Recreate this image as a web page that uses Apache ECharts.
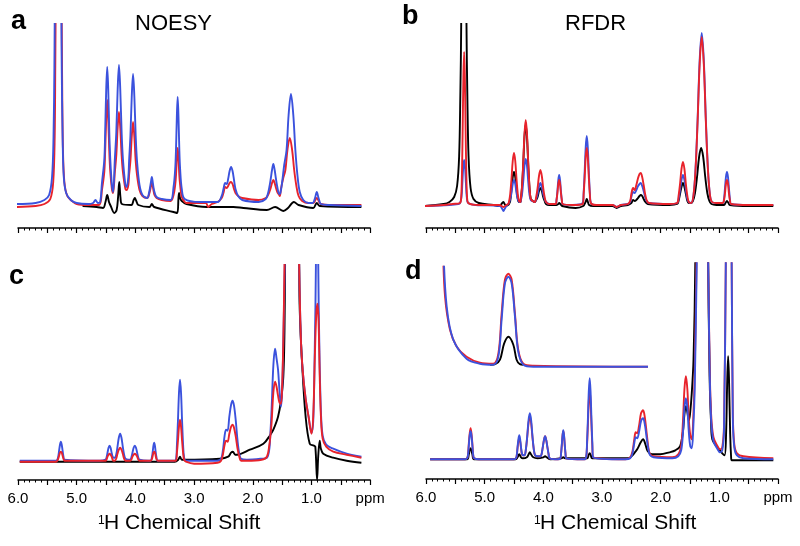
<!DOCTYPE html>
<html><head><meta charset="utf-8">
<script src="https://cdn.jsdelivr.net/npm/echarts@6/dist/echarts.min.js"></script>
<style>html,body{margin:0;padding:0;background:#fff}#chart{width:800px;height:546px}</style>
</head><body><div id="chart"></div>
<script>
// ---------- tick labels & texts ----------
const xTickValues = [6, 5, 4, 3, 2, 1, 0];
const xTickLabels = ['6.0', '5.0', '4.0', '3.0', '2.0', '1.0', 'ppm'];
const panelLetters = ['a', 'b', 'c', 'd'];
const panelTitles = ['NOESY', 'RFDR'];
const axisTitleSup = '1';
const axisTitleMain = 'H Chemical Shift';

// ---------- panel a: NOESY  [ppm, intensity] ----------
const aBlue = [[6.02,3],[5.70,4],[5.55,7],[5.47,12],[5.42,30],[5.395,70],[5.38,140],[5.375,183],[5.32,600],[5.26,183],[5.255,140],[5.24,70],[5.22,30],[5.18,14],[5.10,7],[5.00,4],[4.80,3],[4.72,4],[4.68,7],[4.64,4],[4.60,5],[4.57,24],[4.53,47],[4.515,75],[4.4975,117],[4.48,140],[4.4625,117],[4.445,75],[4.4275,47],[4.40,22],[4.38,15],[4.35,48],[4.325,75],[4.3025,117],[4.28,142],[4.2575,117],[4.235,75],[4.2125,48],[4.17,22],[4.15,20],[4.12,30],[4.1075,46],[4.085,71],[4.0625,110],[4.04,133],[4.0175,110],[3.995,71],[3.9725,46],[3.93,22],[3.88,12],[3.80,9],[3.765,15],[3.735,25],[3.72,30],[3.705,25],[3.69,19],[3.675,15],[3.64,10],[3.55,8],[3.40,7],[3.35,20],[3.322,38],[3.308,58],[3.294,90],[3.28,110],[3.266,90],[3.252,58],[3.238,38],[3.21,18],[3.16,8],[2.90,5],[2.60,5],[2.53,11],[2.50,18],[2.47,24],[2.445,23],[2.42,28],[2.395,36],[2.37,40],[2.345,36],[2.32,27],[2.295,18],[2.25,11],[2.18,7],[1.90,5],[1.78,8],[1.74,14],[1.7175,20],[1.695,28],[1.6725,37],[1.65,43],[1.6275,37],[1.605,28],[1.5825,20],[1.55,13],[1.53,14],[1.50,25],[1.465,42],[1.425,57],[1.39,92],[1.35,113],[1.31,92],[1.275,57],[1.24,32],[1.20,15],[1.14,7],[1.05,4],[0.98,4],[0.95,7],[0.935,10],[0.91,15],[0.885,10],[0.87,7],[0.84,3],[0.70,2],[0.15,1]];
const aRed = [[6.02,0],[5.70,1],[5.55,3],[5.45,8],[5.40,25],[5.375,70],[5.365,140],[5.36,183],[5.31,500],[5.255,183],[5.25,140],[5.235,60],[5.21,25],[5.16,11],[5.08,6],[5.00,3],[4.80,2],[4.62,2],[4.57,17],[4.53,35],[4.515,56],[4.4975,88],[4.48,107],[4.4625,88],[4.445,56],[4.4275,35],[4.40,18],[4.38,14],[4.35,35],[4.325,52],[4.3025,79],[4.28,95],[4.2575,79],[4.235,52],[4.2125,35],[4.17,18],[4.15,17],[4.12,22],[4.1075,32],[4.085,46],[4.0625,70],[4.04,85],[4.0175,70],[3.995,46],[3.9725,32],[3.93,17],[3.88,11],[3.80,9],[3.765,13],[3.735,21],[3.72,25],[3.705,21],[3.69,16],[3.675,12],[3.64,9],[3.55,7],[3.40,6],[3.35,12],[3.322,22],[3.308,32],[3.294,49],[3.28,59],[3.266,49],[3.252,32],[3.238,22],[3.21,10],[3.16,5],[3.13,4],[2.80,4],[2.76,0],[2.70,3],[2.60,5],[2.53,9],[2.50,14],[2.47,20],[2.445,19],[2.42,21],[2.395,24],[2.37,25],[2.345,23],[2.32,18],[2.295,14],[2.25,11],[2.18,9],[1.90,7],[1.78,9],[1.74,12],[1.7175,15],[1.695,19],[1.6725,24],[1.65,27],[1.6275,24],[1.605,19],[1.5825,15],[1.55,12],[1.54,11],[1.52,18],[1.485,28],[1.445,37],[1.41,57],[1.37,69],[1.33,57],[1.295,37],[1.26,22],[1.22,11],[1.16,6],[1.05,4],[0.98,4],[0.95,5],[0.935,7],[0.91,9],[0.885,7],[0.87,5],[0.84,3],[0.70,2],[0.15,2]];
const aBlack = [[4.90,1],[4.66,0],[4.55,-1],[4.51,5],[4.48,12],[4.45,5],[4.42,1],[4.36,-6],[4.32,-3],[4.295,10],[4.275,25],[4.255,10],[4.23,3],[4.07,2],[4.03,7],[4.01,9],[3.985,6],[3.95,2],[3.76,0],[3.72,3],[3.68,0],[3.35,-5],[3.29,-6],[3.265,10],[3.255,14],[3.24,9],[3.21,6],[3.13,3],[2.79,0],[2.33,0],[2.16,-1],[1.76,-3],[1.62,0],[1.48,-4],[1.40,-1],[1.30,5],[1.22,2],[0.97,-1],[0.91,4],[0.86,1],[0.15,0]];

// ---------- panel b: RFDR ----------
const bBlue = [[6.05,0],[5.60,1],[5.45,2],[5.42,3],[5.395,9],[5.38,23],[5.365,39],[5.35,46],[5.335,39],[5.32,23],[5.305,9],[5.28,3],[5.15,1],[4.74,0],[4.70,-3],[4.68,-5],[4.66,-3],[4.63,0],[4.60,2],[4.586,3],[4.5645,7],[4.543,13],[4.5215,22],[4.50,26],[4.4785,22],[4.457,13],[4.4355,7],[4.414,4],[4.39,4],[4.386,5],[4.3645,11],[4.343,24],[4.3215,40],[4.30,47],[4.2785,40],[4.257,24],[4.2355,11],[4.214,6],[4.18,5],[4.146,4],[4.122,7],[4.098,12],[4.074,19],[4.05,23],[4.026,19],[4.002,12],[3.978,7],[3.954,4],[3.90,2],[3.79,2],[3.775,6],[3.76,15],[3.745,26],[3.73,31],[3.715,26],[3.70,15],[3.685,6],[3.67,2],[3.50,1],[3.33,3],[3.3125,14],[3.295,35],[3.2775,59],[3.26,70],[3.2425,59],[3.225,35],[3.2075,14],[3.19,3],[3.10,1],[2.82,1],[2.75,-1],[2.68,1],[2.56,2],[2.52,4],[2.50,9],[2.47,14],[2.445,13],[2.415,16],[2.385,20],[2.36,22],[2.34,23],[2.315,20],[2.29,15],[2.265,9],[2.24,5],[2.20,3],[1.85,2],[1.72,3],[1.695,7],[1.67,16],[1.645,26],[1.62,31],[1.595,26],[1.57,16],[1.545,7],[1.52,4],[1.48,3],[1.44,11],[1.405,38],[1.37,87],[1.335,146],[1.30,173],[1.265,146],[1.23,87],[1.195,38],[1.16,11],[1.125,4],[1.05,3],[0.94,3],[0.9225,6],[0.905,17],[0.8875,29],[0.87,34],[0.8525,29],[0.835,17],[0.8175,6],[0.80,2],[0.50,1],[0.08,1]];
const bRed = [[6.05,0],[5.70,1],[5.55,2],[5.42,3],[5.40,9],[5.3875,32],[5.375,77],[5.3625,129],[5.35,154],[5.3375,129],[5.325,77],[5.3125,32],[5.30,9],[5.28,3],[5.10,1],[4.75,1],[4.68,-1],[4.63,1],[4.60,2],[4.586,4],[4.5645,12],[4.543,27],[4.5215,45],[4.50,53],[4.4785,45],[4.457,27],[4.4355,12],[4.414,5],[4.39,4],[4.386,6],[4.3645,19],[4.343,43],[4.3215,72],[4.30,86],[4.2785,72],[4.257,43],[4.2355,19],[4.214,7],[4.18,5],[4.146,4],[4.122,9],[4.098,18],[4.074,30],[4.05,36],[4.026,30],[4.002,18],[3.978,9],[3.954,4],[3.90,2],[3.79,2],[3.775,6],[3.76,13],[3.745,22],[3.73,26],[3.715,22],[3.70,13],[3.685,6],[3.67,2],[3.50,1],[3.33,2],[3.3125,12],[3.295,29],[3.2775,49],[3.26,58],[3.2425,49],[3.225,29],[3.2075,12],[3.19,3],[3.10,1],[2.82,1],[2.75,-1],[2.68,1],[2.56,2],[2.52,5],[2.50,12],[2.47,18],[2.445,16],[2.415,21],[2.385,28],[2.36,32],[2.34,33],[2.315,29],[2.29,21],[2.265,12],[2.24,6],[2.20,3],[1.85,2],[1.72,3],[1.695,10],[1.67,22],[1.645,37],[1.62,44],[1.595,37],[1.57,22],[1.545,10],[1.52,4],[1.48,3],[1.44,11],[1.405,37],[1.37,85],[1.335,142],[1.30,169],[1.265,142],[1.23,85],[1.195,37],[1.16,11],[1.125,4],[1.05,3],[0.94,3],[0.9225,5],[0.905,12],[0.8875,22],[0.87,26],[0.8525,22],[0.835,12],[0.8175,5],[0.80,2],[0.50,1],[0.08,1]];
const bBlack = [[6.05,0],[5.70,2],[5.60,4],[5.52,9],[5.47,20],[5.435,50],[5.415,110],[5.40,182],[5.355,700],[5.31,182],[5.295,110],[5.275,50],[5.24,18],[5.19,7],[5.10,3],[4.85,1],[4.75,0],[4.70,3],[4.68,4],[4.66,2],[4.63,0],[4.60,1],[4.586,2],[4.5645,5],[4.543,17],[4.5215,29],[4.50,34],[4.4785,29],[4.457,17],[4.4355,7],[4.414,4],[4.39,4],[4.386,5],[4.3645,18],[4.343,41],[4.3215,69],[4.30,82],[4.2785,69],[4.257,41],[4.2355,18],[4.214,7],[4.18,5],[4.146,4],[4.122,6],[4.098,9],[4.074,15],[4.05,18],[4.026,15],[4.002,9],[3.978,5],[3.954,2],[3.90,1],[3.78,1],[3.745,2],[3.73,3],[3.71,2],[3.68,0],[3.45,-2],[3.32,0],[3.28,4],[3.26,7],[3.24,4],[3.22,1],[3.15,0],[2.82,0],[2.75,-2],[2.68,0],[2.56,1],[2.50,3],[2.47,6],[2.44,5],[2.40,7],[2.36,10],[2.34,11],[2.315,10],[2.29,7],[2.26,4],[2.22,2],[1.85,1],[1.72,2],[1.695,5],[1.67,12],[1.645,19],[1.62,23],[1.595,19],[1.57,12],[1.545,5],[1.52,3],[1.48,3],[1.45,5],[1.415,13],[1.38,29],[1.345,49],[1.31,58],[1.275,49],[1.24,29],[1.205,13],[1.17,5],[1.135,2],[1.05,1],[0.92,1],[0.895,3],[0.87,5],[0.845,3],[0.82,1],[0.50,0],[0.08,0]];

// ---------- panel c ----------
const cBlue = [[5.97,0],[5.35,0],[5.33,1],[5.315,4],[5.30,10],[5.285,16],[5.27,19],[5.255,16],[5.24,10],[5.225,4],[5.21,1],[4.60,0],[4.51,1],[4.4925,3],[4.475,8],[4.4575,13],[4.44,15],[4.4225,13],[4.405,8],[4.3875,4],[4.37,3],[4.35,3],[4.3275,6],[4.305,14],[4.2825,23],[4.26,27],[4.2375,23],[4.215,14],[4.1925,6],[4.17,2],[4.12,1],[4.09,1],[4.07,3],[4.05,8],[4.03,13],[4.01,15],[3.99,13],[3.97,8],[3.95,3],[3.93,1],[3.78,0],[3.74,0],[3.7175,4],[3.705,9],[3.6925,15],[3.68,18],[3.6675,15],[3.655,9],[3.6425,4],[3.62,0],[3.35,0],[3.31,1],[3.2925,16],[3.275,40],[3.2575,68],[3.24,81],[3.2225,68],[3.205,40],[3.1875,16],[3.17,3],[3.14,0],[2.60,0],[2.54,2],[2.51,10],[2.48,25],[2.455,31],[2.43,30],[2.40,44],[2.37,56],[2.345,60],[2.32,55],[2.29,40],[2.26,20],[2.23,7],[2.20,2],[2.10,1],[1.85,2],[1.76,3],[1.72,11],[1.70,28],[1.68,51],[1.65,95],[1.62,112],[1.595,102],[1.57,91],[1.545,70],[1.52,54],[1.50,70],[1.48,120],[1.455,196],[1.33,700],[1.21,196],[1.18,120],[1.15,90],[1.10,62],[1.05,44],[1.00,28],[0.97,40],[0.945,110],[0.925,196],[0.905,420],[0.885,196],[0.865,110],[0.84,50],[0.81,25],[0.75,16],[0.63,12],[0.40,7],[0.15,4]];
const cRed = [[5.97,-1],[5.35,-1],[5.33,0],[5.315,2],[5.30,5],[5.285,8],[5.27,9],[5.255,8],[5.24,5],[5.225,2],[5.21,0],[4.60,0],[4.51,0],[4.4925,1],[4.475,4],[4.4575,6],[4.44,7],[4.4225,6],[4.405,4],[4.3875,1],[4.37,0],[4.35,0],[4.3275,2],[4.305,7],[4.2825,11],[4.26,13],[4.2375,11],[4.215,7],[4.1925,2],[4.17,0],[4.09,0],[4.07,1],[4.05,4],[4.03,6],[4.01,7],[3.99,6],[3.97,4],[3.95,1],[3.93,0],[3.74,0],[3.7175,2],[3.705,5],[3.6925,8],[3.68,9],[3.6675,8],[3.655,5],[3.6425,2],[3.62,0],[3.35,0],[3.31,0],[3.2925,8],[3.275,20],[3.2575,34],[3.24,41],[3.2225,34],[3.205,20],[3.1875,8],[3.17,1],[3.14,-1],[3.00,-3],[2.60,-2],[2.54,0],[2.51,6],[2.48,16],[2.455,20],[2.43,19],[2.40,27],[2.37,34],[2.345,36],[2.32,33],[2.29,24],[2.26,12],[2.23,4],[2.20,0],[2.10,0],[1.85,1],[1.76,4],[1.72,15],[1.70,25],[1.68,38],[1.65,68],[1.62,79],[1.595,74],[1.57,65],[1.545,58],[1.52,57],[1.50,75],[1.48,120],[1.46,196],[1.33,700],[1.21,196],[1.18,120],[1.15,90],[1.10,62],[1.05,44],[1.00,27],[0.97,45],[0.945,100],[0.92,145],[0.90,157],[0.88,140],[0.86,85],[0.84,45],[0.81,22],[0.75,14],[0.63,9],[0.40,6],[0.15,3]];
const cBlack = [[5.97,-1],[3.33,-1],[3.27,1],[3.24,4],[3.21,1],[3.16,1],[2.56,2],[2.42,4],[2.37,8],[2.34,9],[2.30,6],[2.27,6],[2.05,11],[1.82,17],[1.70,26],[1.65,31],[1.57,44],[1.52,60],[1.48,84],[1.46,130],[1.45,196],[1.33,900],[1.21,196],[1.20,150],[1.16,97],[1.10,44],[1.03,17],[0.96,15],[0.935,14],[0.905,-19],[0.885,5],[0.86,20],[0.84,12],[0.80,7],[0.63,3],[0.40,0],[0.15,-2]];

// ---------- panel d ----------
const dBlue = [[5.93,0],[5.33,0],[5.30,1],[5.285,4],[5.27,14],[5.255,24],[5.24,28],[5.225,24],[5.21,14],[5.195,4],[5.18,1],[5.10,0],[4.50,0],[4.47,1],[4.455,3],[4.44,12],[4.425,20],[4.41,24],[4.395,20],[4.38,12],[4.365,6],[4.35,4],[4.32,4],[4.2975,10],[4.275,23],[4.2525,39],[4.23,46],[4.2075,39],[4.185,23],[4.1625,10],[4.14,4],[4.10,3],[4.05,3],[4.03,5],[4.01,12],[3.99,19],[3.97,23],[3.95,19],[3.93,12],[3.91,5],[3.89,1],[3.75,0],[3.71,1],[3.6975,6],[3.685,15],[3.6725,24],[3.66,29],[3.6475,24],[3.635,15],[3.6225,6],[3.61,1],[3.30,0],[3.27,2],[3.255,17],[3.24,41],[3.225,68],[3.21,81],[3.195,68],[3.18,41],[3.165,17],[3.15,2],[2.60,0],[2.52,1],[2.48,6],[2.45,16],[2.425,22],[2.40,21],[2.37,27],[2.335,38],[2.30,41],[2.27,35],[2.24,22],[2.21,10],[2.18,4],[2.12,2],[1.80,1],[1.70,3],[1.65,9],[1.62,26],[1.595,51],[1.57,61],[1.545,51],[1.52,27],[1.495,13],[1.47,11],[1.445,30],[1.42,70],[1.385,196],[1.29,600],[1.19,196],[1.165,90],[1.14,40],[1.10,18],[1.03,10],[0.99,7],[0.95,9],[0.92,30],[0.89,196],[0.84,500],[0.79,196],[0.77,40],[0.745,12],[0.70,4],[0.59,1],[0.08,0]];
const dRed = [[5.93,0],[5.33,0],[5.30,1],[5.285,4],[5.27,16],[5.255,26],[5.24,31],[5.225,26],[5.21,16],[5.195,4],[5.18,1],[5.10,0],[4.50,0],[4.47,1],[4.455,3],[4.44,11],[4.425,18],[4.41,21],[4.395,18],[4.38,11],[4.365,5],[4.35,4],[4.32,4],[4.2975,10],[4.275,22],[4.2525,36],[4.23,43],[4.2075,36],[4.185,22],[4.1625,10],[4.14,4],[4.10,3],[4.05,3],[4.03,5],[4.01,12],[3.99,19],[3.97,23],[3.95,19],[3.93,12],[3.91,5],[3.89,1],[3.75,0],[3.71,1],[3.6975,6],[3.685,14],[3.6725,24],[3.66,28],[3.6475,24],[3.635,14],[3.6225,6],[3.61,1],[3.30,0],[3.27,2],[3.255,14],[3.24,35],[3.225,58],[3.21,69],[3.195,58],[3.18,35],[3.165,14],[3.15,2],[2.60,0],[2.52,2],[2.48,8],[2.45,20],[2.425,27],[2.40,26],[2.37,33],[2.335,46],[2.30,49],[2.27,42],[2.24,27],[2.21,12],[2.18,5],[2.12,3],[1.80,2],[1.70,5],[1.65,14],[1.62,38],[1.595,70],[1.57,83],[1.545,70],[1.52,40],[1.495,24],[1.47,20],[1.445,40],[1.42,85],[1.39,196],[1.29,600],[1.19,196],[1.165,95],[1.14,45],[1.10,22],[1.03,13],[0.99,10],[0.95,12],[0.92,35],[0.89,196],[0.84,500],[0.79,196],[0.77,45],[0.745,15],[0.70,6],[0.59,3],[0.08,1]];
const dBlack = [[5.93,0],[5.30,0],[5.27,5],[5.255,9],[5.24,11],[5.225,9],[5.21,5],[5.18,0],[4.47,0],[4.44,2],[4.41,5],[4.38,2],[4.35,1],[4.28,2],[4.25,5],[4.23,7],[4.21,5],[4.17,2],[4.10,1],[4.00,2],[3.97,3],[3.94,2],[3.88,0],[3.69,1],[3.66,2],[3.63,1],[3.25,1],[3.23,4],[3.21,6],[3.19,4],[3.17,1],[2.55,1],[2.48,4],[2.44,7],[2.40,10],[2.34,17],[2.30,20],[2.26,15],[2.22,8],[2.15,5],[2.01,5],[1.85,7],[1.75,9],[1.67,13],[1.62,28],[1.595,45],[1.57,53],[1.545,47],[1.52,39],[1.50,45],[1.47,66],[1.44,100],[1.41,196],[1.30,900],[1.19,196],[1.165,80],[1.14,35],[1.12,20],[1.05,13],[0.99,9],[0.95,6],[0.91,4],[0.885,25],[0.865,80],[0.85,103],[0.835,80],[0.815,25],[0.80,3],[0.79,-1],[0.70,-1],[0.08,-1]];

// ---------- inset in panel d (relative x units 0-100) ----------
const insetRed = [[0,120],[1.0,70],[3.4,37],[6.7,20],[11.5,10],[18.0,4],[24.5,3],[27.0,13],[28.6,53],[30.2,87],[31.9,93],[33.5,87],[35.1,53],[36.7,17],[39.2,3],[44.1,1],[100,0]];
const insetBlue = [[0.2,120],[1.8,60],[5.0,27],[11.5,8],[18.0,3],[24.5,2],[27.0,10],[28.6,47],[30.2,83],[31.9,90],[33.5,83],[35.1,50],[36.7,15],[39.2,2],[44.1,0],[100,0]];
const insetBlack = [[23,2],[25.5,2.5],[27.8,7],[29.8,23],[31.9,30],[34.3,22],[35.9,7],[37.5,2.5],[39.2,2]];

// ---------- build chart ----------
const FONT = '"Liberation Sans", Arial, Helvetica, sans-serif';
const BLUE = '#3b52dd', RED = '#e8232b', BLACK = '#000000';

const grids = [
  {left: 18, top: 24, width: 352.2, height: 204},
  {left: 426, top: 24, width: 352, height: 204},
  {left: 18, top: 265, width: 352.2, height: 215},
  {left: 426, top: 263.3, width: 352, height: 215.7},
  {left: 443, top: 266.7, width: 205, height: 105}
];
const yRanges = [[-21, 183], [-22, 182], [-19.3, 195.7], [-19.7, 196], [-5, 100]];

function xAxisCfg(gi, showLabels) {
  return {
    type: 'value', gridIndex: gi, min: 0, max: 6, interval: 0.5, inverse: true,
    axisLine: {show: true, onZero: false, lineStyle: {color: '#000', width: 1.5}},
    axisTick: {show: true, inside: false, length: 5, lineStyle: {color: '#000', width: 1.2}},
    minorTick: {show: true, splitNumber: 5, length: 2.5, lineStyle: {color: '#000', width: 1}},
    splitLine: {show: false}, minorSplitLine: {show: false},
    axisLabel: {
      show: showLabels, margin: 11, color: '#000', fontSize: 15, fontFamily: FONT,
      showMinLabel: true, showMaxLabel: true,
      formatter: function (v) {
        const i = xTickValues.findIndex(t => Math.abs(t - v) < 1e-6);
        return i >= 0 ? xTickLabels[i] : '';
      }
    }
  };
}
const xAxes = [xAxisCfg(0, false), xAxisCfg(1, false), xAxisCfg(2, true), xAxisCfg(3, true),
  {type: 'value', gridIndex: 4, min: 0, max: 100, show: false}];
const yAxes = yRanges.map((r, i) => ({type: 'value', gridIndex: i, min: r[0], max: r[1], show: false}));

function line(idx, data, color, z) {
  return {
    type: 'line', xAxisIndex: idx, yAxisIndex: idx, data: data, symbol: 'none', showSymbol: false,
    smooth: 0.35, clip: true, z: z, silent: true,
    lineStyle: {color: color, width: 1.9}
  };
}
const series = [
  line(0, aBlack, BLACK, 2), line(0, aRed, RED, 3), line(0, aBlue, BLUE, 4),
  line(1, bBlack, BLACK, 2), line(1, bBlue, BLUE, 3), line(1, bRed, RED, 4),
  line(2, cBlack, BLACK, 2), line(2, cBlue, BLUE, 3), line(2, cRed, RED, 4),
  line(3, dBlack, BLACK, 2), line(3, dRed, RED, 3), line(3, dBlue, BLUE, 4),
  line(4, insetBlack, BLACK, 2), line(4, insetRed, RED, 3), line(4, insetBlue, BLUE, 4)
];

function txt(x, y, text, font) {
  return {type: 'text', x: x, y: y, silent: true,
    style: {text: text, font: font, fill: '#000', textAlign: 'left', textVerticalAlign: 'top'}};
}
const graphics = [
  txt(11, 8, panelLetters[0], 'bold 27px ' + FONT),
  txt(402, 3, panelLetters[1], 'bold 27px ' + FONT),
  txt(9, 263, panelLetters[2], 'bold 27px ' + FONT),
  txt(405, 258, panelLetters[3], 'bold 27px ' + FONT),
  txt(135, 13, panelTitles[0], '22px ' + FONT),
  txt(565, 13, panelTitles[1], '22px ' + FONT),
  txt(98, 515, axisTitleSup, '12px ' + FONT),
  txt(104, 513, axisTitleMain, '21px ' + FONT),
  txt(534, 515, axisTitleSup, '12px ' + FONT),
  txt(540, 513, axisTitleMain, '21px ' + FONT)
];

const chart = echarts.init(document.getElementById('chart'), null, {renderer: 'canvas'});
chart.setOption({
  animation: false,
  backgroundColor: '#ffffff',
  grid: grids,
  xAxis: xAxes,
  yAxis: yAxes,
  series: series,
  graphic: {elements: graphics}
});
</script>
</body></html>
